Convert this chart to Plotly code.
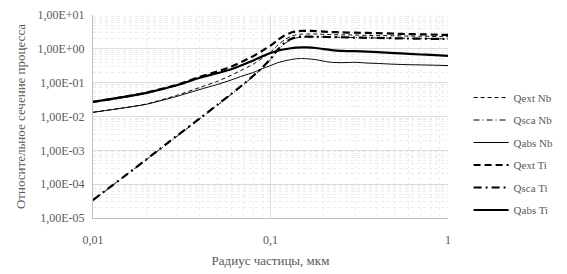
import plotly.graph_objects as go

radius = [0.01, 0.015, 0.02, 0.03, 0.04, 0.05, 0.06, 0.07, 0.08, 0.09, 0.1, 0.11, 0.12, 0.13, 0.14,
          0.15, 0.16, 0.18, 0.2, 0.22, 0.25, 0.3, 0.35, 0.4, 0.5, 0.6, 0.7, 0.8, 0.9, 1.0]

qext_nb = [0.0133, 0.0182, 0.0235, 0.043, 0.072, 0.109, 0.165, 0.246, 0.355, 0.53, 0.80, 1.29, 1.86, 2.33, 2.61,
           2.72, 2.76, 2.73, 2.68, 2.62, 2.59, 2.55, 2.50, 2.47, 2.42, 2.38, 2.355, 2.33, 2.305, 2.28]
qsca_nb = [3.3e-5, 1.7e-4, 5.3e-4, 2.7e-3, 8.6e-3, 0.021, 0.045, 0.086, 0.155, 0.27, 0.48, 0.90, 1.42, 1.85, 2.1,
           2.2, 2.25, 2.25, 2.25, 2.22, 2.2, 2.15, 2.12, 2.1, 2.07, 2.04, 2.02, 2.0, 1.98, 1.96]
qabs_nb = [0.0133, 0.018, 0.023, 0.040, 0.063, 0.088, 0.12, 0.16, 0.20, 0.26, 0.32, 0.39, 0.44, 0.48, 0.51,
           0.52, 0.51, 0.48, 0.43, 0.40, 0.39, 0.40, 0.38, 0.37, 0.35, 0.34, 0.335, 0.33, 0.325, 0.32]
qext_ti = [0.027, 0.038, 0.0505, 0.088, 0.149, 0.212, 0.296, 0.43, 0.61, 0.88, 1.25, 1.83, 2.47, 2.99, 3.28,
           3.40, 3.40, 3.34, 3.23, 3.14, 3.07, 3.0, 2.95, 2.9, 2.8, 2.73, 2.68, 2.64, 2.6, 2.57]
qsca_ti = [3.4e-5, 1.7e-4, 5.4e-4, 2.8e-3, 8.8e-3, 0.022, 0.046, 0.088, 0.16, 0.28, 0.50, 0.95, 1.5, 1.95, 2.2,
           2.3, 2.3, 2.28, 2.25, 2.22, 2.2, 2.15, 2.12, 2.1, 2.05, 2.02, 2.0, 1.98, 1.96, 1.95]
qabs_ti = [0.027, 0.038, 0.050, 0.085, 0.14, 0.19, 0.25, 0.34, 0.45, 0.60, 0.75, 0.88, 0.97, 1.04, 1.08,
           1.10, 1.10, 1.06, 0.98, 0.92, 0.87, 0.85, 0.83, 0.80, 0.75, 0.71, 0.68, 0.66, 0.64, 0.62]

x_ticks = [0.01, 0.1, 1]
x_tick_text = ["0,01", "0,1", "1"]
y_ticks = [1e-5, 1e-4, 1e-3, 1e-2, 1e-1, 1e0, 1e1]
y_tick_text = ["1,00E-05", "1,00E-04", "1,00E-03", "1,00E-02", "1,00E-01", "1,00E+00", "1,00E+01"]

series = [
    ("Qext Nb", qext_nb, 1.0, "4px,3px"),
    ("Qsca Nb", qsca_nb, 1.0, "6px,3px,1px,3px"),
    ("Qabs Nb", qabs_nb, 1.0, "solid"),
    ("Qext Ti", qext_ti, 2.2, "7px,4px"),
    ("Qsca Ti", qsca_ti, 2.2, "8px,4px,2px,4px"),
    ("Qabs Ti", qabs_ti, 2.2, "solid"),
]

FONT = "Liberation Serif"
fig = go.Figure()
for i, (name, vals, w, dash) in enumerate(series):
    fig.add_trace(go.Scatter(x=radius, y=vals, mode="lines", name=name, legendgroup=str(i),
                             line=dict(color="black", width=w, dash=dash, shape="spline", smoothing=0.6)))

major_col = "#dcdcdc"
minor_col = "#ececec"
fig.update_layout(
    width=567, height=274,
    margin=dict(l=93, r=119, t=15, b=56, autoexpand=False),
    paper_bgcolor="white", plot_bgcolor="white",
    font=dict(family=FONT, size=12, color="#595959"),
    showlegend=True,
    legend=dict(x=1.058, y=0.665, xanchor="left", yanchor="top", tracegroupgap=3.5, itemwidth=35,
                font=dict(family=FONT, size=11, color="#595959"), bgcolor="rgba(0,0,0,0)"),
    xaxis=dict(type="log", range=[-2, 0], tickvals=x_ticks, ticktext=x_tick_text,
               showgrid=True, gridcolor=major_col, gridwidth=1,
               showline=True, linecolor="#bfbfbf", zeroline=False, ticks="", ticklabelstandoff=11,
               minor=dict(dtick="D1", showgrid=True, gridcolor=minor_col, griddash="dot", gridwidth=1),
               title=dict(text="Радиус частицы, мкм", font=dict(family=FONT, size=13, color="#595959"), standoff=9)),
    yaxis=dict(type="log", range=[-5, 1], tickvals=y_ticks, ticktext=y_tick_text,
               showgrid=True, gridcolor=major_col, gridwidth=1,
               showline=True, linecolor="#bfbfbf", zeroline=False, ticks="", ticklabelstandoff=5,
               minor=dict(dtick="D1", showgrid=True, gridcolor=minor_col, griddash="dot", gridwidth=1),
               title=dict(text="Относительное сечение процесса", font=dict(family=FONT, size=13, color="#595959"), standoff=8)),
)
fig.write_html("out.html")
